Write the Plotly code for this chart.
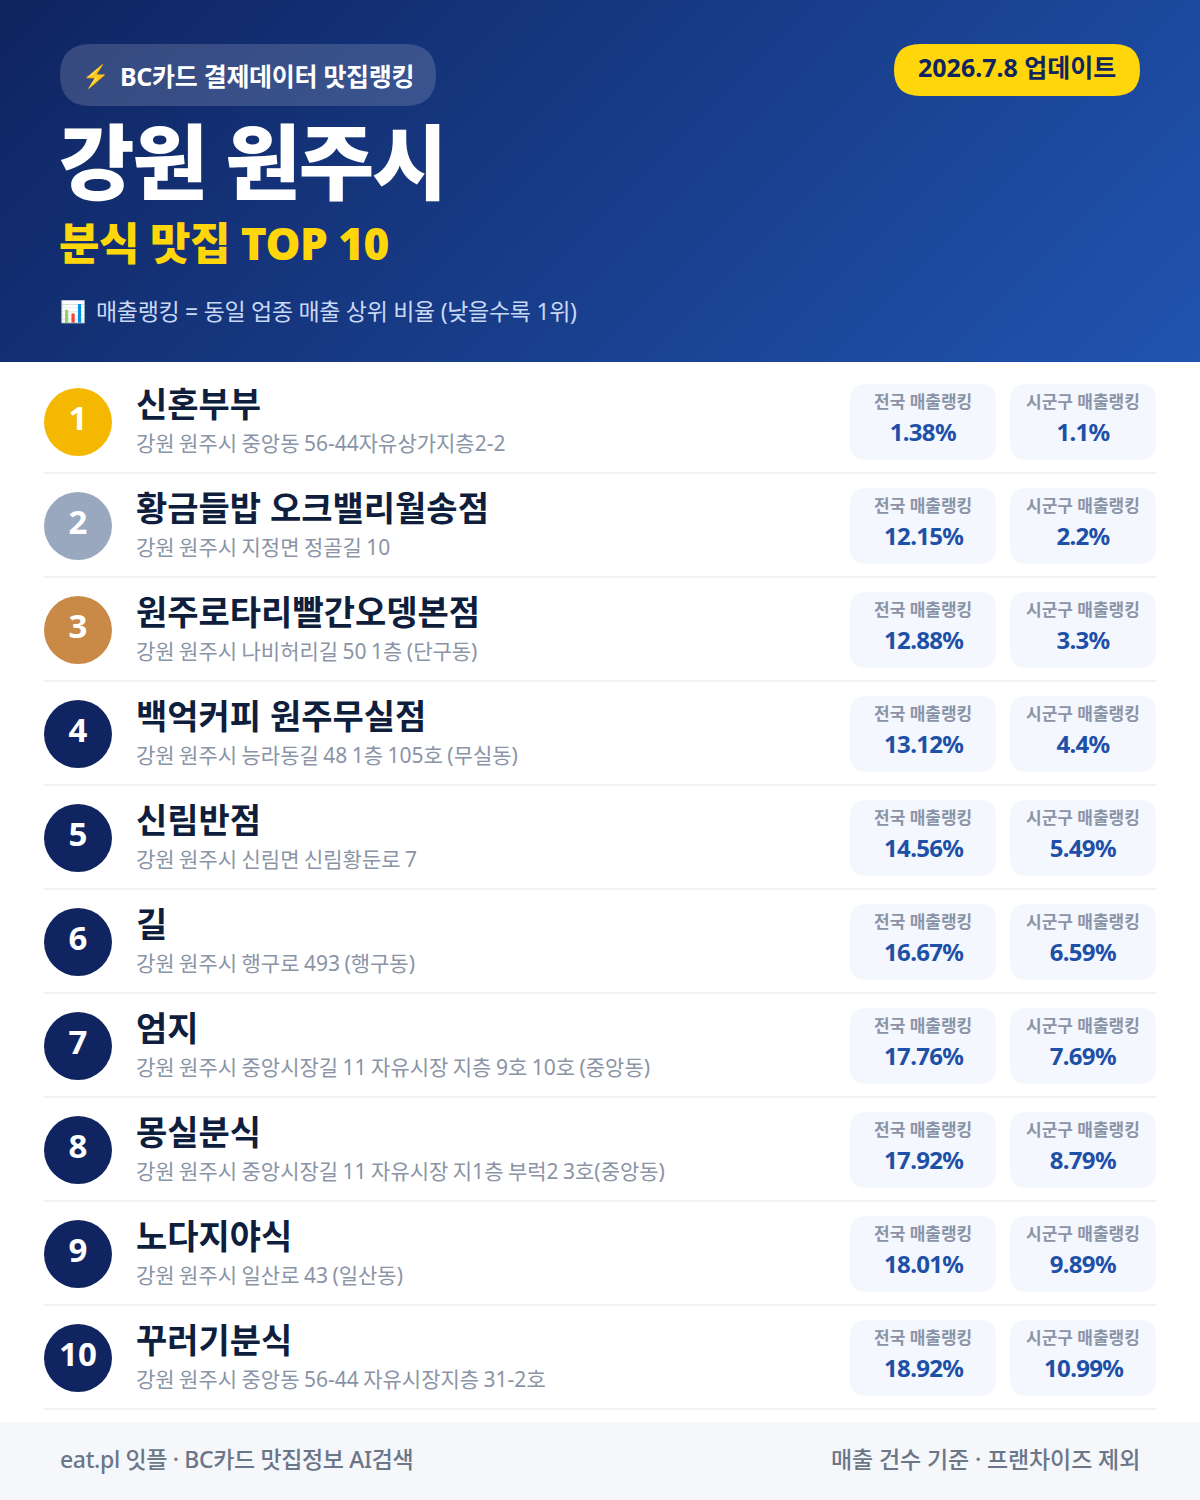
import base64
import json
import plotly.graph_objects as go

RANKS = list(range(1, 11))
NAMES = ["신혼부부", "황금들밥 오크밸리월송점", "원주로타리빨간오뎅본점", "백억커피 원주무실점", "신림반점",
         "길", "엄지", "몽실분식", "노다지야식", "꾸러기분식"]
ADDRESSES = ["강원 원주시 중앙동 56-44자유상가지층2-2", "강원 원주시 지정면 정골길 10",
             "강원 원주시 나비허리길 50 1층 (단구동)", "강원 원주시 능라동길 48 1층 105호 (무실동)",
             "강원 원주시 신림면 신림황둔로 7", "강원 원주시 행구로 493 (행구동)",
             "강원 원주시 중앙시장길 11 자유시장 지층 9호 10호 (중앙동)",
             "강원 원주시 중앙시장길 11 자유시장 지1층 부럭2 3호(중앙동)",
             "강원 원주시 일산로 43 (일산동)", "강원 원주시 중앙동 56-44 자유시장지층 31-2호"]
NATIONAL = ["1.38%", "12.15%", "12.88%", "13.12%", "14.56%", "16.67%", "17.76%", "17.92%", "18.01%", "18.92%"]
DISTRICT = ["1.1%", "2.2%", "3.3%", "4.4%", "5.49%", "6.59%", "7.69%", "8.79%", "9.89%", "10.99%"]
BADGE_COLORS = ["#F5B800", "#9AA8BF", "#C98A48"] + ["#0F2460"] * 7

FONT = "Noto Sans, Noto Sans CJK KR"
NAVY = "#0F1E3C"


def rrect(x0, y0, x1, y1, r):
    return (f"M{x0+r},{y0} L{x1-r},{y0} Q{x1},{y0} {x1},{y0+r} L{x1},{y1-r} Q{x1},{y1} {x1-r},{y1} "
            f"L{x0+r},{y1} Q{x0},{y1} {x0},{y1-r} L{x0},{y0+r} Q{x0},{y0} {x0+r},{y0} Z")


shapes, ann, spacing = [], [], []


def box(x0, y0, x1, y1, r, fill, layer="below"):
    shapes.append(dict(type="path", path=rrect(x0, y0, x1, y1, r), fillcolor=fill, line_width=0, layer=layer))


def text(x, y, s, size, color, weight=400, anchor="left", ls=0, ws=0):
    ann.append(dict(x=x, y=y, text=s, showarrow=False, xanchor=anchor, yanchor="middle", align=anchor,
                    font=dict(family=FONT, size=size, color=color, weight=weight)))
    spacing.append([ls, ws])


svg = ('<svg xmlns="http://www.w3.org/2000/svg" width="1200" height="362"><defs>'
       '<linearGradient id="g" gradientUnits="userSpaceOnUse" x1="0" y1="0" x2="781" y2="781">'
       '<stop offset="0" stop-color="#0F2460"/><stop offset="1" stop-color="#2054B0"/></linearGradient></defs>'
       '<rect width="1200" height="362" fill="url(#g)"/></svg>')
images = [dict(source="data:image/svg+xml;base64," + base64.b64encode(svg.encode()).decode(),
               xref="x", yref="y", x=0, y=0, sizex=1200, sizey=362, sizing="stretch",
               xanchor="left", yanchor="top", layer="below")]

box(60, 44, 436, 106, 31, "rgba(255,255,255,0.16)", "above")
box(894, 44, 1140, 96, 26, "#FFD60A", "above")
text(80, 75, "⚡", 22, "#FFD60A")
text(118, 76, "BC카드 결제데이터 맛집랭킹", 25, "#FFFFFF", 700, ls=-0.3)
text(1017, 67, "2026.7.8 업데이트", 25, "#0F2460", 700, "center")
text(57, 161, "강원 원주시", 82, "#FFFFFF", 900, ls=-2)
text(57, 243, "분식 맛집 TOP 10", 44, "#FFD60A", 900, ls=-0.5)
text(58, 311, "📊", 21, "#C9D8F5")
text(94, 311, "매출랭킹 = 동일 업종 매출 상위 비율 (낮을수록 1위)", 23, "#C9D8F5", ls=-0.3)

ys = [422 + 104 * i for i in range(10)]
for i, y in enumerate(ys):
    shapes.append(dict(type="line", x0=44, x1=1156, y0=y + 51, y1=y + 51,
                       line=dict(color="#F0F2F5", width=2), layer="below"))
    box(850, y - 38, 996, y + 38, 16, "#F4F7FD")
    box(1010, y - 38, 1156, y + 38, 16, "#F4F7FD")
    text(134, y - 18.5, NAMES[i], 34, NAVY, 700)
    text(134, y + 21, ADDRESSES[i], 21, "#8A94A6", 400, ws=-1)
    text(923, y - 21, "전국 매출랭킹", 17, "#8A94A6", 700, "center")
    text(1083, y - 21, "시군구 매출랭킹", 17, "#8A94A6", 700, "center")
    text(923, y + 9, NATIONAL[i], 24, "#1E50A8", 700, "center", ls=-0.7)
    text(1083, y + 9, DISTRICT[i], 24, "#1E50A8", 700, "center", ls=-0.7)

box(0, 1422, 1200, 1500, 0.01, "#F5F7FB")
text(58, 1458.5, "eat.pl 잇플 · BC카드 맛집정보 AI검색", 23, "#6B7688", 500, ls=-0.35)
text(1142, 1458.5, "매출 건수 기준 · 프랜차이즈 제외", 23, "#6B7688", 500, "right", ls=-0.1)

fig = go.Figure()
fig.add_trace(go.Scatter(
    x=[78] * 10, y=ys, mode="markers+text", text=[str(r) for r in RANKS], textposition="middle center",
    marker=dict(size=68, color=BADGE_COLORS, line_width=0),
    textfont=dict(family=FONT, size=33, color="#FFFFFF", weight=700), hoverinfo="skip", showlegend=False))
fig.update_layout(
    width=1200, height=1500, margin=dict(l=0, r=0, t=0, b=0), autosize=False,
    paper_bgcolor="#FFFFFF", plot_bgcolor="#FFFFFF", showlegend=False,
    xaxis=dict(range=[0, 1200], visible=False, fixedrange=True),
    yaxis=dict(range=[1500, 0], visible=False, fixedrange=True),
    shapes=shapes, annotations=ann, images=images)
post = ("document.body.style.margin='0';var ls=" + json.dumps(spacing) + ";"
        "document.querySelectorAll('.annotation-text').forEach(function(t,i){"
        "if(ls[i][0]){t.style.letterSpacing=ls[i][0]+'px';}"
        "if(ls[i][1]){t.style.wordSpacing=ls[i][1]+'px';}});")
fig.write_html("out.html", config=dict(displayModeBar=False), post_script=post)
